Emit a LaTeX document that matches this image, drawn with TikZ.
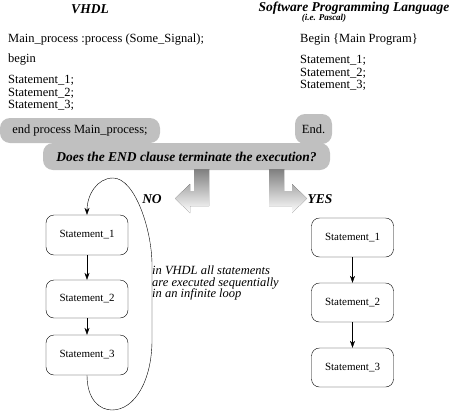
\documentclass[tikz,border=0pt]{standalone}
\usepackage{fontspec}
\setmainfont{Liberation Serif}
\usetikzlibrary{arrows.meta}
\definecolor{shade}{HTML}{C0C0C0}
\tikzset{stmtbox/.style={draw,thin,rounded corners=8pt,minimum width=82pt,minimum height=39pt,inner sep=0pt,font=\fontsize{11}{13}\selectfont},
  graybox/.style={fill=shade,rounded corners=10pt,inner sep=0pt,font=\fontsize{12.5}{14}\selectfont},
  codeline/.style={right,inner sep=0pt,font=\fontsize{12.5}{14}\selectfont},
  headline/.style={inner sep=0pt,font=\fontsize{13.5}{15}\selectfont\bfseries\itshape},
  flow/.style={-{Stealth[length=7pt,width=5pt]},thin}}

\begin{document}
\begin{tikzpicture}[x=1pt,y=-1pt]
    \useasboundingbox (0,0) rectangle (453,413);

    % headings
    \node [headline] (vhdl) at (90,9) {VHDL};
    \node [headline] (swlang) at (354,8) {Software Programming Language};
    \node [headline,font=\fontsize{9}{10}\selectfont\bfseries\itshape] (pascal) at (324,18) {(i.e. Pascal)};

    % VHDL code
    \node [codeline] (vproc) at (8,40) {Main\_process :process (Some\_Signal);};
    \node [codeline] (vbegin) at (8,60) {begin};
    \node [codeline] (vs1) at (8,80) {Statement\_1;};
    \node [codeline] (vs2) at (8,93) {Statement\_2;};
    \node [codeline] (vs3) at (8,105) {Statement\_3;};

    % Pascal code
    \node [codeline] (pbegin) at (300,40) {Begin \{Main Program\}};
    \node [codeline] (ps1) at (300,60) {Statement\_1;};
    \node [codeline] (ps2) at (300,73) {Statement\_2;};
    \node [codeline] (ps3) at (300,85) {Statement\_3;};

    % gray question
    \node [graybox,minimum width=160pt,minimum height=25pt] (vend) at (80,130.5) {end process Main\_process;};
    \node [graybox,minimum width=37pt,minimum height=30pt] (pend) at (313.5,129) {End.};
    \node [graybox,minimum width=287pt,minimum height=27pt,font=\fontsize{13.5}{15}\selectfont\bfseries\itshape] (question) at (186.5,156.5) {Does the END clause terminate the execution?};

    \fill [shade] (209,169) -- (194,169) -- (194,191) -- (190,191) -- (190,184) -- (175,198.5) -- (190,213) -- (190,206) -- (209,206) -- cycle;
    \fill [shade] (269,169) -- (284,169) -- (284,191) -- (292,191) -- (292,184) -- (307,198.5) -- (292,213) -- (292,206) -- (269,206) -- cycle;
    \node [headline] (no) at (152,199) {NO};
    \node [headline] (yes) at (320,199) {YES};

    % VHDL flow
    \node [stmtbox,minimum height=40pt] (l1) at (87,235) {Statement\_1};
    \node [stmtbox,minimum height=38pt] (l2) at (87,299) {Statement\_2};
    \node [stmtbox,minimum height=40pt] (l3) at (87,355) {Statement\_3};
    \draw [flow] (l1) -- (l2);
    \draw [flow] (l2) -- (l3);
    \draw [flow] (l3.south) .. controls (87,400) and (100,410) .. (112,410)
        .. controls (135,410) and (152,380) .. (152,340) -- (152,265)
        .. controls (152,230) and (135,178) .. (113,178)
        .. controls (97,178) and (87,195) .. (l1.north);

    \node [right,inner sep=0pt,align=left,font=\fontsize{12.5}{11.5}\selectfont\itshape] (note) at (152,283) {in VHDL all statements\\are executed sequentially\\in an infinite loop};

    % Pascal flow
    \node [stmtbox] (r1) at (352.5,237.5) {Statement\_1};
    \node [stmtbox] (r2) at (352.5,302.5) {Statement\_2};
    \node [stmtbox] (r3) at (352.5,367.5) {Statement\_3};
    \draw [flow] (r1) -- (r2);
    \draw [flow] (r2) -- (r3);
\end{tikzpicture}
\end{document}
